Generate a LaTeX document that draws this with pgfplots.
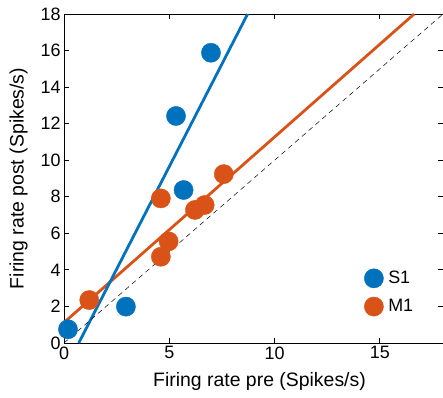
\documentclass[border=0pt]{standalone}
\usepackage{fontspec}
\setmainfont{Liberation Sans}
\usepackage{pgfplots}
\pgfplotsset{compat=1.18}
\definecolor{mblue}{rgb}{0,0.447,0.741}
\definecolor{morange}{rgb}{0.85,0.325,0.098}
\begin{document}
\begin{tikzpicture}
\begin{axis}[
  scale only axis, width=379bp, height=329bp,
  xmin=0, xmax=18, ymin=0, ymax=18,
  xtick={0,5,10,15}, ytick={0,2,...,18},
  tick align=inside, major tick length=5bp,
  axis line style={line width=0.8pt},
  every tick/.style={black, line width=0.8pt},
  tick label style={font=\fontsize{18}{21}\selectfont},
  label style={font=\fontsize{19.5}{23}\selectfont},
  xlabel={Firing rate pre (Spikes/s)},
  ylabel={Firing rate post (Spikes/s)},
  xlabel style={yshift=-6bp, xshift=6bp},
  ylabel style={yshift=6bp},
  /pgf/number format/assume math mode=true,
  legend style={draw=none, fill=none, at={(0.935,0.075)}, anchor=south east,
    font=\fontsize{18}{21}\selectfont, row sep=9bp},
  legend cell align=left,
  legend image code/.code={\draw[#1] plot coordinates {(0.42cm,0cm)}; \path (0cm,0cm) (0.85cm,0cm);},
  clip=false,
]
% orange fit line
\addplot[morange, line width=2.8pt, forget plot] coordinates {(0,1.12) (16.63,18)};
% M1 scatter
\addplot[color=morange, only marks, mark=*, mark size=9.6bp, forget plot] coordinates {
(1.2,2.35) (4.6,7.91) (4.6,4.72) (4.97,5.56) (6.22,7.28) (6.68,7.55) (7.59,9.24)};
% S1 scatter
\addplot[color=mblue, only marks, mark=*, mark size=9.6bp] coordinates {
(0.19,0.75) (2.94,1.99) (5.68,8.37) (5.32,12.42) (6.98,15.88)};
\addlegendentry{S1}
% blue fit line
\addplot[mblue, line width=2.8pt, forget plot] coordinates {(0.70,0) (8.72,18)};
% unity line
\addplot[black, line width=0.5pt, dash pattern=on 5bp off 4bp, forget plot] coordinates {(0,0) (18,18)};
% legend entry for M1
\addlegendimage{color=morange, only marks, mark=*, mark size=9.6bp}
\addlegendentry{M1}
\end{axis}
\pgfresetboundingbox
\path ([xshift=-64bp,yshift=-55bp]current axis.south west) rectangle ([yshift=14bp]current axis.north east);
\end{tikzpicture}
\end{document}
